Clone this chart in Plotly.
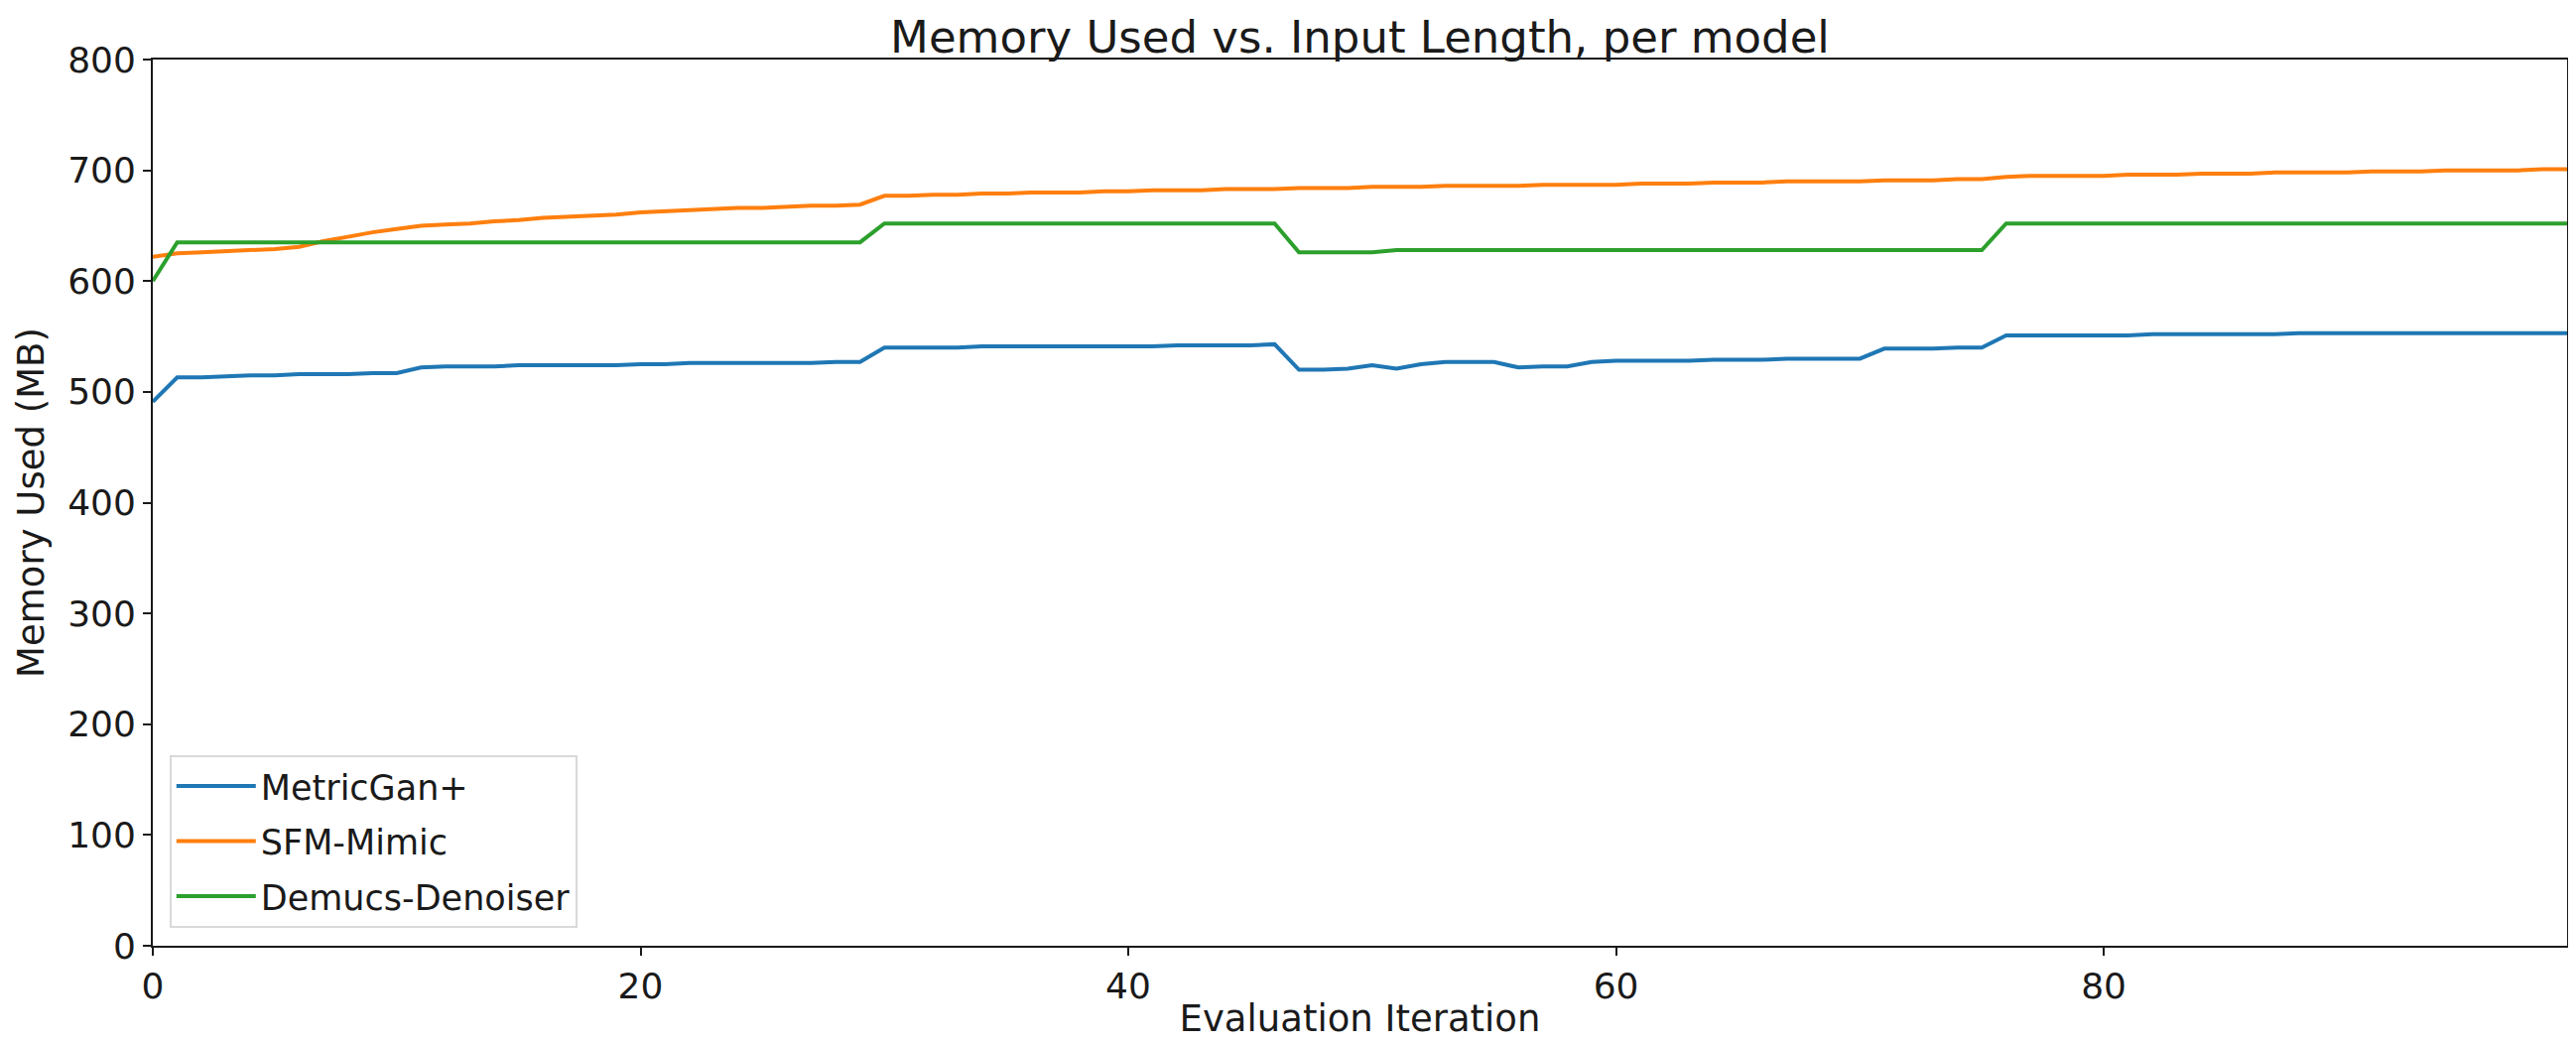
import plotly.graph_objects as go

iterations = list(range(100))

metricgan = [491, 513, 513, 514, 515, 515, 516, 516, 516, 517,
             517, 522, 523, 523, 523, 524, 524, 524, 524, 524,
             525, 525, 526, 526, 526, 526, 526, 526, 527, 527,
             540, 540, 540, 540, 541, 541, 541, 541, 541, 541,
             541, 541, 542, 542, 542, 542, 543, 520, 520, 521,
             524, 521, 525, 527, 527, 527, 522, 523, 523, 527,
             528, 528, 528, 528, 529, 529, 529, 530, 530, 530,
             530, 539, 539, 539, 540, 540, 551, 551, 551, 551,
             551, 551, 552, 552, 552, 552, 552, 552, 553, 553,
             553, 553, 553, 553, 553, 553, 553, 553, 553, 553]

sfm_mimic = [622, 625, 626, 627, 628, 629, 631, 636, 640, 644,
             647, 650, 651, 652, 654, 655, 657, 658, 659, 660,
             662, 663, 664, 665, 666, 666, 667, 668, 668, 669,
             677, 677, 678, 678, 679, 679, 680, 680, 680, 681,
             681, 682, 682, 682, 683, 683, 683, 684, 684, 684,
             685, 685, 685, 686, 686, 686, 686, 687, 687, 687,
             687, 688, 688, 688, 689, 689, 689, 690, 690, 690,
             690, 691, 691, 691, 692, 692, 694, 695, 695, 695,
             695, 696, 696, 696, 697, 697, 697, 698, 698, 698,
             698, 699, 699, 699, 700, 700, 700, 700, 701, 701]

demucs = [600, 635, 635, 635, 635, 635, 635, 635, 635, 635,
          635, 635, 635, 635, 635, 635, 635, 635, 635, 635,
          635, 635, 635, 635, 635, 635, 635, 635, 635, 635,
          652, 652, 652, 652, 652, 652, 652, 652, 652, 652,
          652, 652, 652, 652, 652, 652, 652, 626, 626, 626,
          626, 628, 628, 628, 628, 628, 628, 628, 628, 628,
          628, 628, 628, 628, 628, 628, 628, 628, 628, 628,
          628, 628, 628, 628, 628, 628, 652, 652, 652, 652,
          652, 652, 652, 652, 652, 652, 652, 652, 652, 652,
          652, 652, 652, 652, 652, 652, 652, 652, 652, 652]

series_names = ["MetricGan+", "SFM-Mimic", "Demucs-Denoiser"]
series_colors = ["#1f77b4", "#ff7f0e", "#2ca02c"]
series_values = [metricgan, sfm_mimic, demucs]

x_ticks = [0, 20, 40, 60, 80]
y_ticks = [0, 100, 200, 300, 400, 500, 600, 700, 800]

FONT = "DejaVu Sans"
TXT = "#1a1a1a"

fig = go.Figure()
for name, color, vals in zip(series_names, series_colors, series_values):
    fig.add_trace(go.Scatter(
        x=iterations, y=vals, mode="lines", name=name,
        legendgroup=name,
        line=dict(color=color, width=4),
    ))

axis_common = dict(
    showgrid=False, zeroline=False,
    showline=True, linecolor=TXT, linewidth=1.8, mirror=True,
    ticks="outside", ticklen=8, tickwidth=1.8, tickcolor=TXT,
    tickfont=dict(family=FONT, size=36, color=TXT),
)

fig.update_layout(
    width=2596, height=1052,
    paper_bgcolor="white", plot_bgcolor="white",
    margin=dict(l=146, r=17, t=52, b=107),
    title=dict(text="Memory Used vs. Input Length, per model",
               font=dict(family=FONT, size=45, color=TXT),
               x=0.5, xref="paper", xanchor="center",
               y=1, yref="paper", yanchor="bottom", pad=dict(b=7)),
    xaxis=dict(range=[0, 99], tickvals=x_ticks,
               title=dict(text="Evaluation Iteration",
                          font=dict(family=FONT, size=37, color=TXT), standoff=0),
               **axis_common),
    yaxis=dict(range=[0, 800], tickvals=y_ticks,
               title=dict(text="Memory Used (MB)",
                          font=dict(family=FONT, size=37, color=TXT), standoff=12),
               **axis_common),
    legend=dict(x=0.0069, y=0.0205, xanchor="left", yanchor="bottom",
                bgcolor="rgba(255,255,255,0.8)", bordercolor="#d9d9d9", borderwidth=2,
                font=dict(family=FONT, size=35, color=TXT),
                traceorder="grouped", tracegroupgap=7, itemwidth=80),
    showlegend=True,
)

fig.write_html("out.html")
